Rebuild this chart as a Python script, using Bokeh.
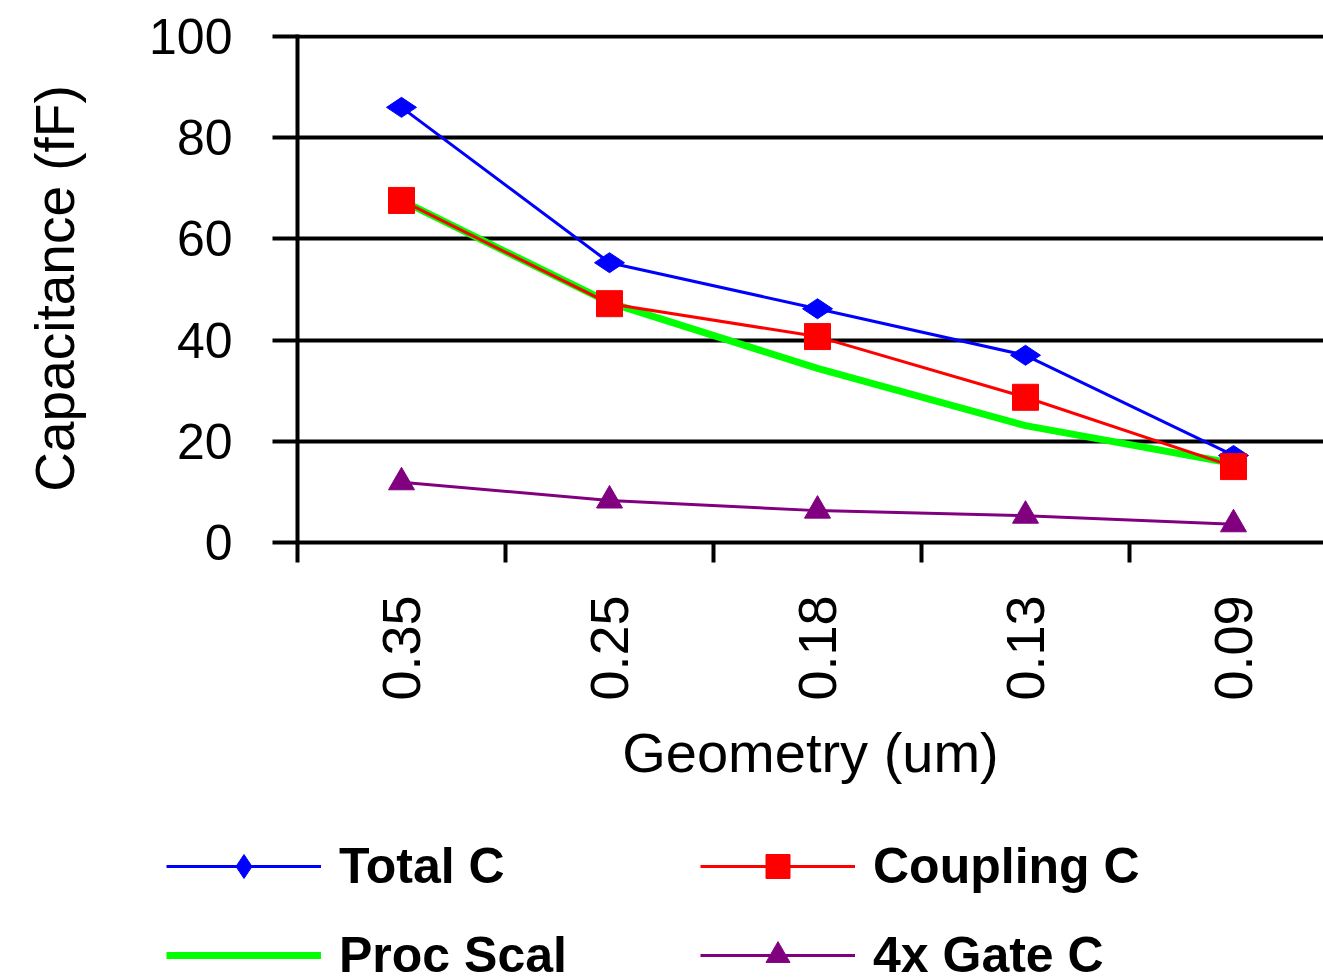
from bokeh.plotting import figure
from bokeh.layouts import column, row
from bokeh.models import Range1d, FixedTicker, Legend, LegendItem
from bokeh.embed import file_html
from bokeh.resources import INLINE

geometry = ["0.35", "0.25", "0.18", "0.13", "0.09"]
total_c = [86.0, 55.3, 46.2, 37.0, 17.2]
coupling_c = [67.6, 47.2, 40.7, 28.7, 15.0]
proc_scal = [67.6, 47.4, 34.4, 23.1, 15.6]
gate_c = [11.9, 8.3, 6.3, 5.3, 3.6]
y_ticks = [0, 20, 40, 60, 80, 100]
legend_order = ["Total C", "Proc Scal", "Coupling C", "4x Gate C"]

x = list(range(len(geometry)))
FONT = "Liberation Sans"

p = figure(width=1323, height=810, output_backend="svg", toolbar_location=None,
           x_range=Range1d(-0.5, 1026 / 208 - 0.5), y_range=Range1d(0, 100.4),
           min_border_left=297, min_border_right=0, min_border_top=34,
           min_border_bottom=268, outline_line_color=None)

xa = p.xaxis[0]
xa.ticker = FixedTicker(ticks=x, minor_ticks=[i - 0.5 for i in range(len(geometry) + 1)])
xa.major_label_overrides = {i: g for i, g in enumerate(geometry)}
xa.major_label_orientation = 1.5708
xa.major_label_text_font = FONT
xa.major_label_text_font_size = "54px"
xa.major_label_text_color = "black"
xa.major_label_standoff = 33
xa.major_tick_out = 0
xa.major_tick_in = 0
xa.minor_tick_out = 20
xa.minor_tick_in = 0
xa.minor_tick_line_width = 4
xa.minor_tick_line_color = "black"
xa.axis_line_width = 4
xa.axis_line_color = "black"
xa.axis_label = "Geometry (um)"
xa.axis_label_text_font = FONT
xa.axis_label_text_font_size = "56px"
xa.axis_label_text_font_style = "normal"
xa.axis_label_text_color = "black"
xa.axis_label_standoff = 17

ya = p.yaxis[0]
ya.ticker = FixedTicker(ticks=y_ticks, minor_ticks=[])
ya.major_label_text_font = FONT
ya.major_label_text_font_size = "50px"
ya.major_label_text_color = "black"
ya.major_label_standoff = 40
ya.major_tick_out = 25
ya.major_tick_in = 0
ya.major_tick_line_width = 4
ya.major_tick_line_color = "black"
ya.axis_line_width = 4
ya.axis_line_color = "black"
ya.axis_label = "Capacitance (fF)"
ya.axis_label_text_font = FONT
ya.axis_label_text_font_size = "55px"
ya.axis_label_text_font_style = "normal"
ya.axis_label_text_color = "black"
ya.axis_label_standoff = 60

p.xgrid.grid_line_color = None
p.ygrid.ticker = FixedTicker(ticks=y_ticks)
p.ygrid.grid_line_color = "black"
p.ygrid.grid_line_width = 4
p.ygrid.grid_line_alpha = 1.0

styles = {
    "Total C": dict(color="#0000FF", width=3, marker="diamond", size=30, angle=1.5708),
    "Coupling C": dict(color="#FF0000", width=3, marker="square", size=26, angle=0),
    "Proc Scal": dict(color="#00FF00", width=7, marker=None, size=0, angle=0),
    "4x Gate C": dict(color="#800080", width=3, marker="triangle", size=26, angle=0),
}
values = {"Total C": total_c, "Coupling C": coupling_c,
          "Proc Scal": proc_scal, "4x Gate C": gate_c}

p.line(x, proc_scal, line_color="#00FF00", line_width=7)
for name in ["Total C", "Coupling C", "4x Gate C"]:
    s = styles[name]
    p.line(x, values[name], line_color=s["color"], line_width=s["width"])
for name in ["Total C", "Coupling C", "4x Gate C"]:
    s = styles[name]
    p.scatter(x, values[name], marker=s["marker"], size=s["size"], angle=s["angle"],
              fill_color=s["color"], line_color=s["color"])

# legend panel below the chart (its series drawn outside its visible range)
lg = figure(width=1323, height=168, output_backend="svg", toolbar_location=None,
            x_range=Range1d(100, 101), y_range=Range1d(1000, 1001),
            x_axis_type=None, y_axis_type=None, outline_line_color=None,
            min_border_left=0, min_border_right=0, min_border_top=0, min_border_bottom=0)
lg.xgrid.grid_line_color = None
lg.ygrid.grid_line_color = None
items = []
for name in legend_order:
    s = styles[name]
    rs = [lg.line(x, values[name], line_color=s["color"], line_width=s["width"])]
    if s["marker"]:
        rs.append(lg.scatter(x, values[name], marker=s["marker"], size=s["size"], angle=s["angle"],
                             fill_color=s["color"], line_color=s["color"]))
    items.append(LegendItem(label=name, renderers=rs))

legend = Legend(items=items, ncols=2, location=(166, -7))
legend.label_text_font = FONT
legend.label_text_font_size = "50px"
legend.label_text_font_style = "bold"
legend.label_text_color = "black"
legend.label_text_baseline = "middle"
legend.glyph_width = 155
legend.glyph_height = 60
legend.label_height = 60
legend.label_width = 332
legend.label_standoff = 18
legend.spacing = 29
legend.padding = 0
legend.margin = 0
legend.background_fill_alpha = 0
legend.border_line_color = None
lg.add_layout(legend, "center")

layout = column(p, row(lg, spacing=0), spacing=0)
open("out.html", "w").write(file_html(layout, INLINE))
